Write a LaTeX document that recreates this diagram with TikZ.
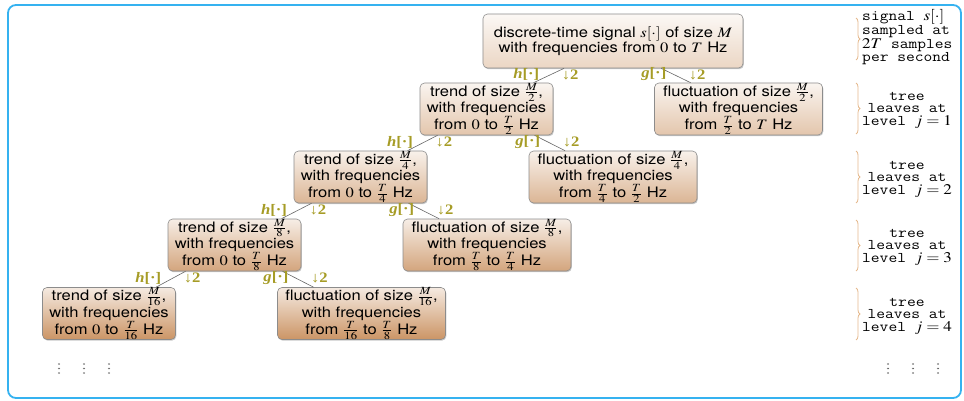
\documentclass[tikz,border=0pt]{standalone}
\usepackage{mathptmx}
\usepackage{fontspec}
\newfontfamily\boxfont{TeX Gyre Heros}
\newfontfamily\labfont{Liberation Serif}
\usetikzlibrary{shadows,decorations.pathreplacing,calc}
\definecolor{basebr}{HTML}{C68A56}
\definecolor{labcol}{HTML}{A69C26}
\definecolor{framecol}{HTML}{35B2F0}
\definecolor{bracecol}{HTML}{E5B98D}
\newcommand{\hlab}{{\itshape h}[·]}
\newcommand{\glab}{{\itshape g}[·]}
\newcommand{\dlab}{↓2}
\tikzset{
  tbox/.style={draw=black!45, line width=0.6pt, rounded corners=4.5pt, align=center,
    inner sep=0pt, font={\boxfont\fontsize{14.4}{14.5}\selectfont},
    drop shadow={shadow xshift=0.8pt, shadow yshift=-1.2pt, opacity=0.3, fill=black!70}},
  rootbox/.style={tbox, minimum width=226.1pt, minimum height=54pt},
  trendbox/.style={tbox, minimum width=115.65pt, minimum height=52pt},
  flucbox/.style={tbox, minimum width=146.09pt, minimum height=52pt},
  lev0/.style={top color=basebr!6!white, bottom color=basebr!35!white},
  lev1/.style={top color=basebr!9!white, bottom color=basebr!49!white},
  lev2/.style={top color=basebr!12!white, bottom color=basebr!63!white},
  lev3/.style={top color=basebr!15!white, bottom color=basebr!77!white},
  lev4/.style={top color=basebr!18!white, bottom color=basebr!91!white},
  conn/.style={draw=black!60, line width=0.6pt},
  labbase/.style={inner sep=0pt, text=labcol, font={\labfont\bfseries\fontsize{14.5}{14.5}\selectfont}},
  hl/.style={labbase, anchor=east, xshift=-8pt, yshift=1pt},
  dl/.style={labbase, anchor=west, xshift=11pt, yshift=1pt},
  mono/.style={inner sep=0pt, font={\ttfamily\fontsize{14.8}{12.5}\selectfont}},
  brc/.style={draw=bracecol, line width=0.8pt, decorate, decoration={brace, amplitude=4pt}},
  dotc/.style={fill=black!60},
  frame/.style={draw=framecol, line width=1.8pt, rounded corners=8pt}
}
\begin{document}
\begin{tikzpicture}[x=0.869565pt, y=-1pt, xscale=1.15, transform shape]
\useasboundingbox (0,0) rectangle (964,401);
\draw[frame] (8,5) rectangle (961,398);

\node[rootbox, lev0] (r) at (613,41) {discrete-time signal $s[\cdot]$ of size $M$\\with frequencies from $0$ to $T$ Hz};
\node[trendbox, lev1] (t1) at (486.5,109) {trend of size $\frac{M}{2}$,\\with frequencies\\from $0$ to $\frac{T}{2}$ Hz};
\node[flucbox, lev1] (f1) at (738.5,109) {fluctuation of size $\frac{M}{2}$,\\with frequencies\\from $\frac{T}{2}$ to $T$ Hz};
\node[trendbox, lev2] (t2) at (360.5,177) {trend of size $\frac{M}{4}$,\\with frequencies\\from $0$ to $\frac{T}{4}$ Hz};
\node[flucbox, lev2] (f2) at (613,177) {fluctuation of size $\frac{M}{4}$,\\with frequencies\\from $\frac{T}{4}$ to $\frac{T}{2}$ Hz};
\node[trendbox, lev3] (t3) at (234.5,245) {trend of size $\frac{M}{8}$,\\with frequencies\\from $0$ to $\frac{T}{8}$ Hz};
\node[flucbox, lev3] (f3) at (487,245) {fluctuation of size $\frac{M}{8}$,\\with frequencies\\from $\frac{T}{8}$ to $\frac{T}{4}$ Hz};
\node[trendbox, lev4] (t4) at (109,313.5) {trend of size $\frac{M}{16}$,\\with frequencies\\from $0$ to $\frac{T}{16}$ Hz};
\node[flucbox, lev4] (f4) at (361.5,313.5) {fluctuation of size $\frac{M}{16}$,\\with frequencies\\from $\frac{T}{16}$ to $\frac{T}{8}$ Hz};

\foreach \p/\a/\b in {r/t1/f1, t1/t2/f2, t2/t3/f3, t3/t4/f4} {
  \draw[conn] ($(\p.south)+(-49,0)$) -- node[hl]{\hlab} node[dl]{\dlab} ($(\a.north)+(47,0)$);
  \draw[conn] ($(\p.south)+(48,0)$) -- node[hl]{\glab} node[dl]{\dlab} ($(\b.north)+(-48,0)$);
}

\node[mono, anchor=west, align=left] (a0) at (862,37) {signal $s[\cdot]$\\sampled at\\$2T$ samples\\per second};
\node[mono, align=center] (a1) at (907,110) {tree\\leaves at\\level $j=1$};
\node[mono, align=center] (a2) at (907,179) {tree\\leaves at\\level $j=2$};
\node[mono, align=center] (a3) at (907,247) {tree\\leaves at\\level $j=3$};
\node[mono, align=center] (a4) at (907,316) {tree\\leaves at\\level $j=4$};

\draw[brc] (856,18) -- (856,60);
\draw[brc] (856,83) -- (856,134);
\draw[brc] (856,151) -- (856,203);
\draw[brc] (856,220) -- (856,271);
\draw[brc] (856,288) -- (856,340);

\foreach \x in {59,84,109,888,913,938} {
  \foreach \y in {364,368.5,373} {
    \fill[dotc] (\x,\y) circle[radius=0.9pt];
  }
}
\end{tikzpicture}
\end{document}
